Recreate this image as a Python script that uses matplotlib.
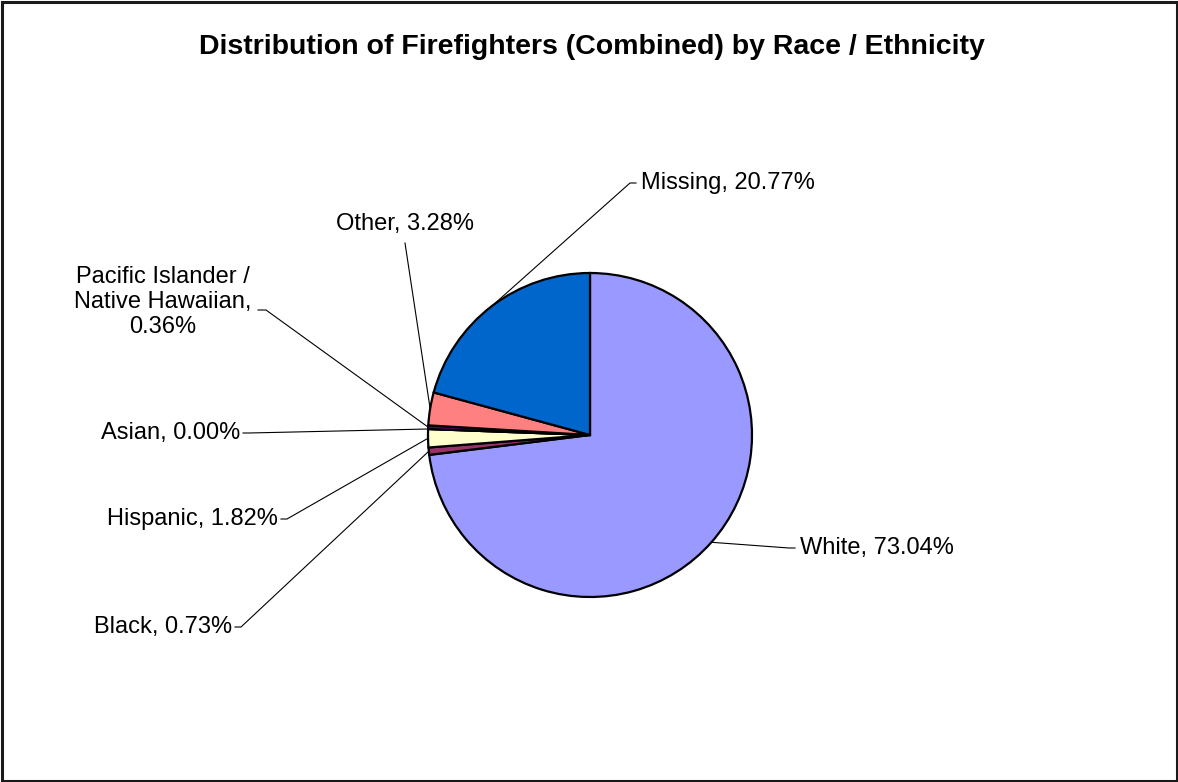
import numpy as np
import matplotlib
matplotlib.use("Agg")
import matplotlib.pyplot as plt
from matplotlib.patches import Rectangle

plt.rcParams['font.family'] = ['Liberation Sans', 'DejaVu Sans']

# Slices, clockwise from 12 o'clock
categories = ["White", "Black", "Hispanic", "Asian",
              "Pacific Islander /\nNative Hawaiian,\n", "Other", "Missing"]
shares = [73.04, 0.73, 1.82, 0.00, 0.36, 3.28, 20.77]
colors = ["#9999FF", "#993366", "#FFFFCC", "#CCFFFF", "#660066", "#FF8080", "#0066CC"]
title = "Distribution of Firefighters (Combined) by Race / Ethnicity"

W, H = 1178, 782
fig = plt.figure(figsize=(W / 100, H / 100), dpi=100)
ax = fig.add_axes([0, 0, 1, 1])
ax.set_xlim(0, W)
ax.set_ylim(0, H)
ax.set_aspect('equal')
ax.axis('off')

# outer chart border
ax.add_patch(Rectangle((1.5, 1.5), W - 3, H - 3, fill=False, lw=2.2, ec='#1a1a1a'))

cx, cy, r = 590, H - 435, 162
wedges, _ = ax.pie(shares, colors=colors, startangle=90, counterclock=False,
                   center=(cx, cy), radius=r, normalize=True,
                   wedgeprops=dict(edgecolor='black', linewidth=1.6))
ax.set_xlim(0, W)
ax.set_ylim(0, H)

ax.text(592, H - 47, title, ha='center', va='center', fontsize=20.5,
        fontweight='bold')

# label layout: (text x, text y, ha, elbow x, elbow y) in pixel space (y from top)
layout = [
    (800, 548, 'left', 795, 548),
    (232, 627, 'right', 235, 627),
    (278, 519, 'right', 281, 519),
    (240, 433, 'right', 243, 433),
    (163, 302, 'center', 258, 310),
    (405, 224, 'center', 405, 243),
    (641, 183, 'left', 636, 183),
]

fs = 17
for w, name, val, (tx, ty, ha, ex, ey) in zip(wedges, categories, shares, layout):
    mid = np.deg2rad((w.theta1 + w.theta2) / 2)
    px, py = cx + r * np.cos(mid), cy + r * np.sin(mid)
    ey_d = H - ey
    if ha == 'left':
        ax.plot([px, ex - 6, ex], [py, ey_d, ey_d], color='black', lw=0.8)
    elif ha == 'right':
        ax.plot([px, ex + 6, ex], [py, ey_d, ey_d], color='black', lw=0.8)
    elif name.startswith("Pacific"):
        ax.plot([px, ex + 8, ex], [py, ey_d, ey_d], color='black', lw=0.8)
    else:
        ax.plot([px, ex], [py, ey_d], color='black', lw=0.8)
    if name.endswith("\n"):
        label = f"{name}{val:.2f}%"
    else:
        label = f"{name}, {val:.2f}%"
    ax.text(tx, H - ty, label, ha=ha, va='center', fontsize=fs,
            linespacing=1.2, multialignment='center')

fig.savefig("out.png", dpi=100)
